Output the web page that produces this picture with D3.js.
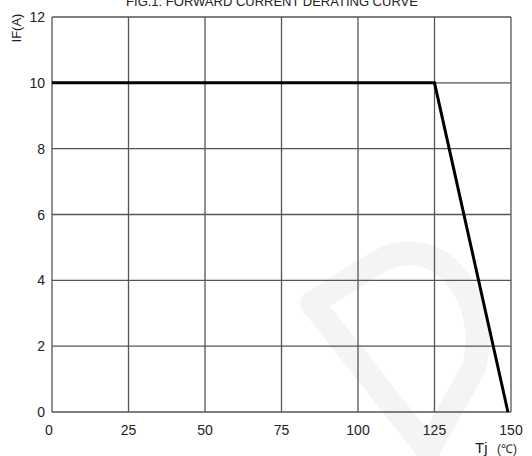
<!DOCTYPE html>
<html><head><meta charset="utf-8">
<script src="https://cdn.jsdelivr.net/npm/d3@7"></script>
<style>body{margin:0;background:#fff}svg{display:block}text{font-family:"Liberation Sans",Arial,sans-serif}</style>
</head><body>
<svg id="c" width="532" height="456"></svg>
<script>
const title = "FIG.1: FORWARD CURRENT  DERATING CURVE";
const xTicks = [0, 25, 50, 75, 100, 125, 150];
const yTicks = [0, 2, 4, 6, 8, 10, 12];
const tempC = [0, 125, 149];
const currentA = [10, 10, 0];
const xLabel = "Tj";
const xUnit = "(℃)";
const yLabel = "IF(A)";

const svg = d3.select("#c");
const m = {l: 52, r: 511, t: 17, b: 412};
const x = d3.scaleLinear().domain([0, 150]).range([m.l, m.r]);
const y = d3.scaleLinear().domain([0, 12]).range([m.b, m.t]);

// faint watermark
svg.append("path")
  .attr("d", "M312,303 L378,262 C440,228 492,300 474,368 L428,450 Z")
  .attr("fill", "none").attr("stroke", "#f4f4f4").attr("stroke-width", 24)
  .attr("stroke-linejoin", "round");

svg.append("text").attr("x", 272).attr("y", 6).attr("text-anchor", "middle")
  .attr("font-size", 13).attr("fill", "#222").text(title);

const g = svg.append("g");
g.selectAll(".vx").data(xTicks).join("line")
  .attr("x1", d => x(d)).attr("x2", d => x(d)).attr("y1", m.t).attr("y2", m.b)
  .attr("stroke", "#555").attr("stroke-width", 1.3);
g.selectAll(".hy").data(yTicks).join("line")
  .attr("y1", d => y(d)).attr("y2", d => y(d)).attr("x1", m.l).attr("x2", m.r)
  .attr("stroke", "#555").attr("stroke-width", 1.3);

g.selectAll(".xt").data(xTicks).join("text")
  .attr("x", d => x(d) - (d === 0 ? 3 : 0)).attr("y", 435).attr("text-anchor", "middle")
  .attr("font-size", 14).attr("fill", "#222").text(d => d);
g.selectAll(".yt").data(yTicks).join("text")
  .attr("x", 45).attr("y", d => y(d) + 5).attr("text-anchor", "end")
  .attr("font-size", 14).attr("fill", "#222").text(d => d);

svg.append("text").attr("transform", "translate(21,28) rotate(-90)")
  .attr("text-anchor", "middle").attr("font-size", 13).attr("fill", "#222").text(yLabel);
svg.append("text").attr("x", 475).attr("y", 453).attr("font-size", 15).attr("fill", "#222").text(xLabel);
svg.append("text").attr("x", 497).attr("y", 453).attr("font-size", 12).attr("fill", "#222").text(xUnit);

const line = d3.line().x(d => x(d[0])).y(d => y(d[1]));
svg.append("path").datum(tempC.map((t, i) => [t, currentA[i]]))
  .attr("d", line).attr("fill", "none").attr("stroke", "#000").attr("stroke-width", 3);
</script>
</body></html>
